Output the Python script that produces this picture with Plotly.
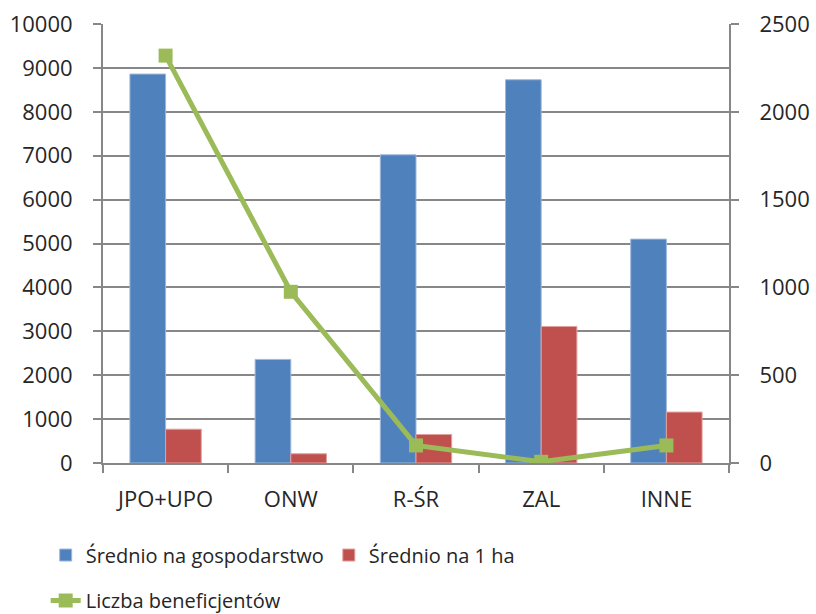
import plotly.graph_objects as go

categories = ["JPO+UPO", "ONW", "R-ŚR", "ZAL", "INNE"]
srednio_gospodarstwo = [8860, 2360, 7020, 8730, 5100]
srednio_ha = [770, 210, 650, 3110, 1160]
liczba_beneficjentow = [2320, 975, 100, 7, 100]

left_ticks = [0, 1000, 2000, 3000, 4000, 5000, 6000, 7000, 8000, 9000, 10000]
right_ticks = [0, 500, 1000, 1500, 2000, 2500]

BLUE = "#4F81BD"
RED = "#C0504D"
GREEN = "#9BBB59"
GRID = "#878787"
TEXT = "#262626"
FONT = "Open Sans"

fig = go.Figure()
fig.add_trace(go.Bar(
    x=categories, y=srednio_gospodarstwo, name="Średnio na gospodarstwo",
    marker=dict(color=BLUE, line=dict(color="#9DB8DB", width=1)),
    legend="legend",
))
fig.add_trace(go.Bar(
    x=categories, y=srednio_ha, name="Średnio na 1 ha",
    marker=dict(color=RED, line=dict(color="#E0A09E", width=1)),
    legend="legend",
))
fig.add_trace(go.Scatter(
    x=categories, y=liczba_beneficjentow, name="Liczba beneficjentów",
    mode="lines+markers", yaxis="y2",
    line=dict(color=GREEN, width=5),
    marker=dict(symbol="square", size=14, color=GREEN),
    legend="legend2",
))

fig.update_layout(
    width=816, height=614,
    margin=dict(l=103, r=87, t=24, b=151, autoexpand=False),
    paper_bgcolor="white", plot_bgcolor="white",
    font=dict(family=FONT, size=22, color=TEXT),
    barmode="group", bargap=0.43, bargroupgap=0,
    xaxis=dict(
        showline=True, linecolor=GRID, linewidth=2,
        ticks="outside", tickson="boundaries", ticklen=8, tickcolor=GRID, tickwidth=2,
        ticklabelstandoff=16,
    ),
    yaxis=dict(
        range=[0, 10000], tickvals=left_ticks, ticktext=[str(v) for v in left_ticks],
        showgrid=True, gridcolor=GRID, gridwidth=2,
        showline=True, linecolor=GRID, linewidth=2,
        ticks="outside", ticklen=8, tickcolor=GRID, tickwidth=2,
        ticklabelstandoff=16, zeroline=False,
    ),
    yaxis2=dict(
        range=[0, 2500], tickvals=right_ticks, ticktext=[str(v) for v in right_ticks],
        overlaying="y", side="right", showgrid=False,
        showline=True, linecolor=GRID, linewidth=2,
        ticks="outside", ticklen=8, tickcolor=GRID, tickwidth=2,
        ticklabelstandoff=16, zeroline=False,
    ),
    legend=dict(
        orientation="h", xref="container", yref="container",
        x=0.056, y=0.096, xanchor="left", yanchor="middle",
        font=dict(size=20), itemwidth=30, traceorder="normal",
    ),
    legend2=dict(
        orientation="h", xref="container", yref="container",
        x=0.056, y=0.022, xanchor="left", yanchor="middle",
        font=dict(size=20), itemwidth=30,
    ),
)

fig.write_html("out.html")
